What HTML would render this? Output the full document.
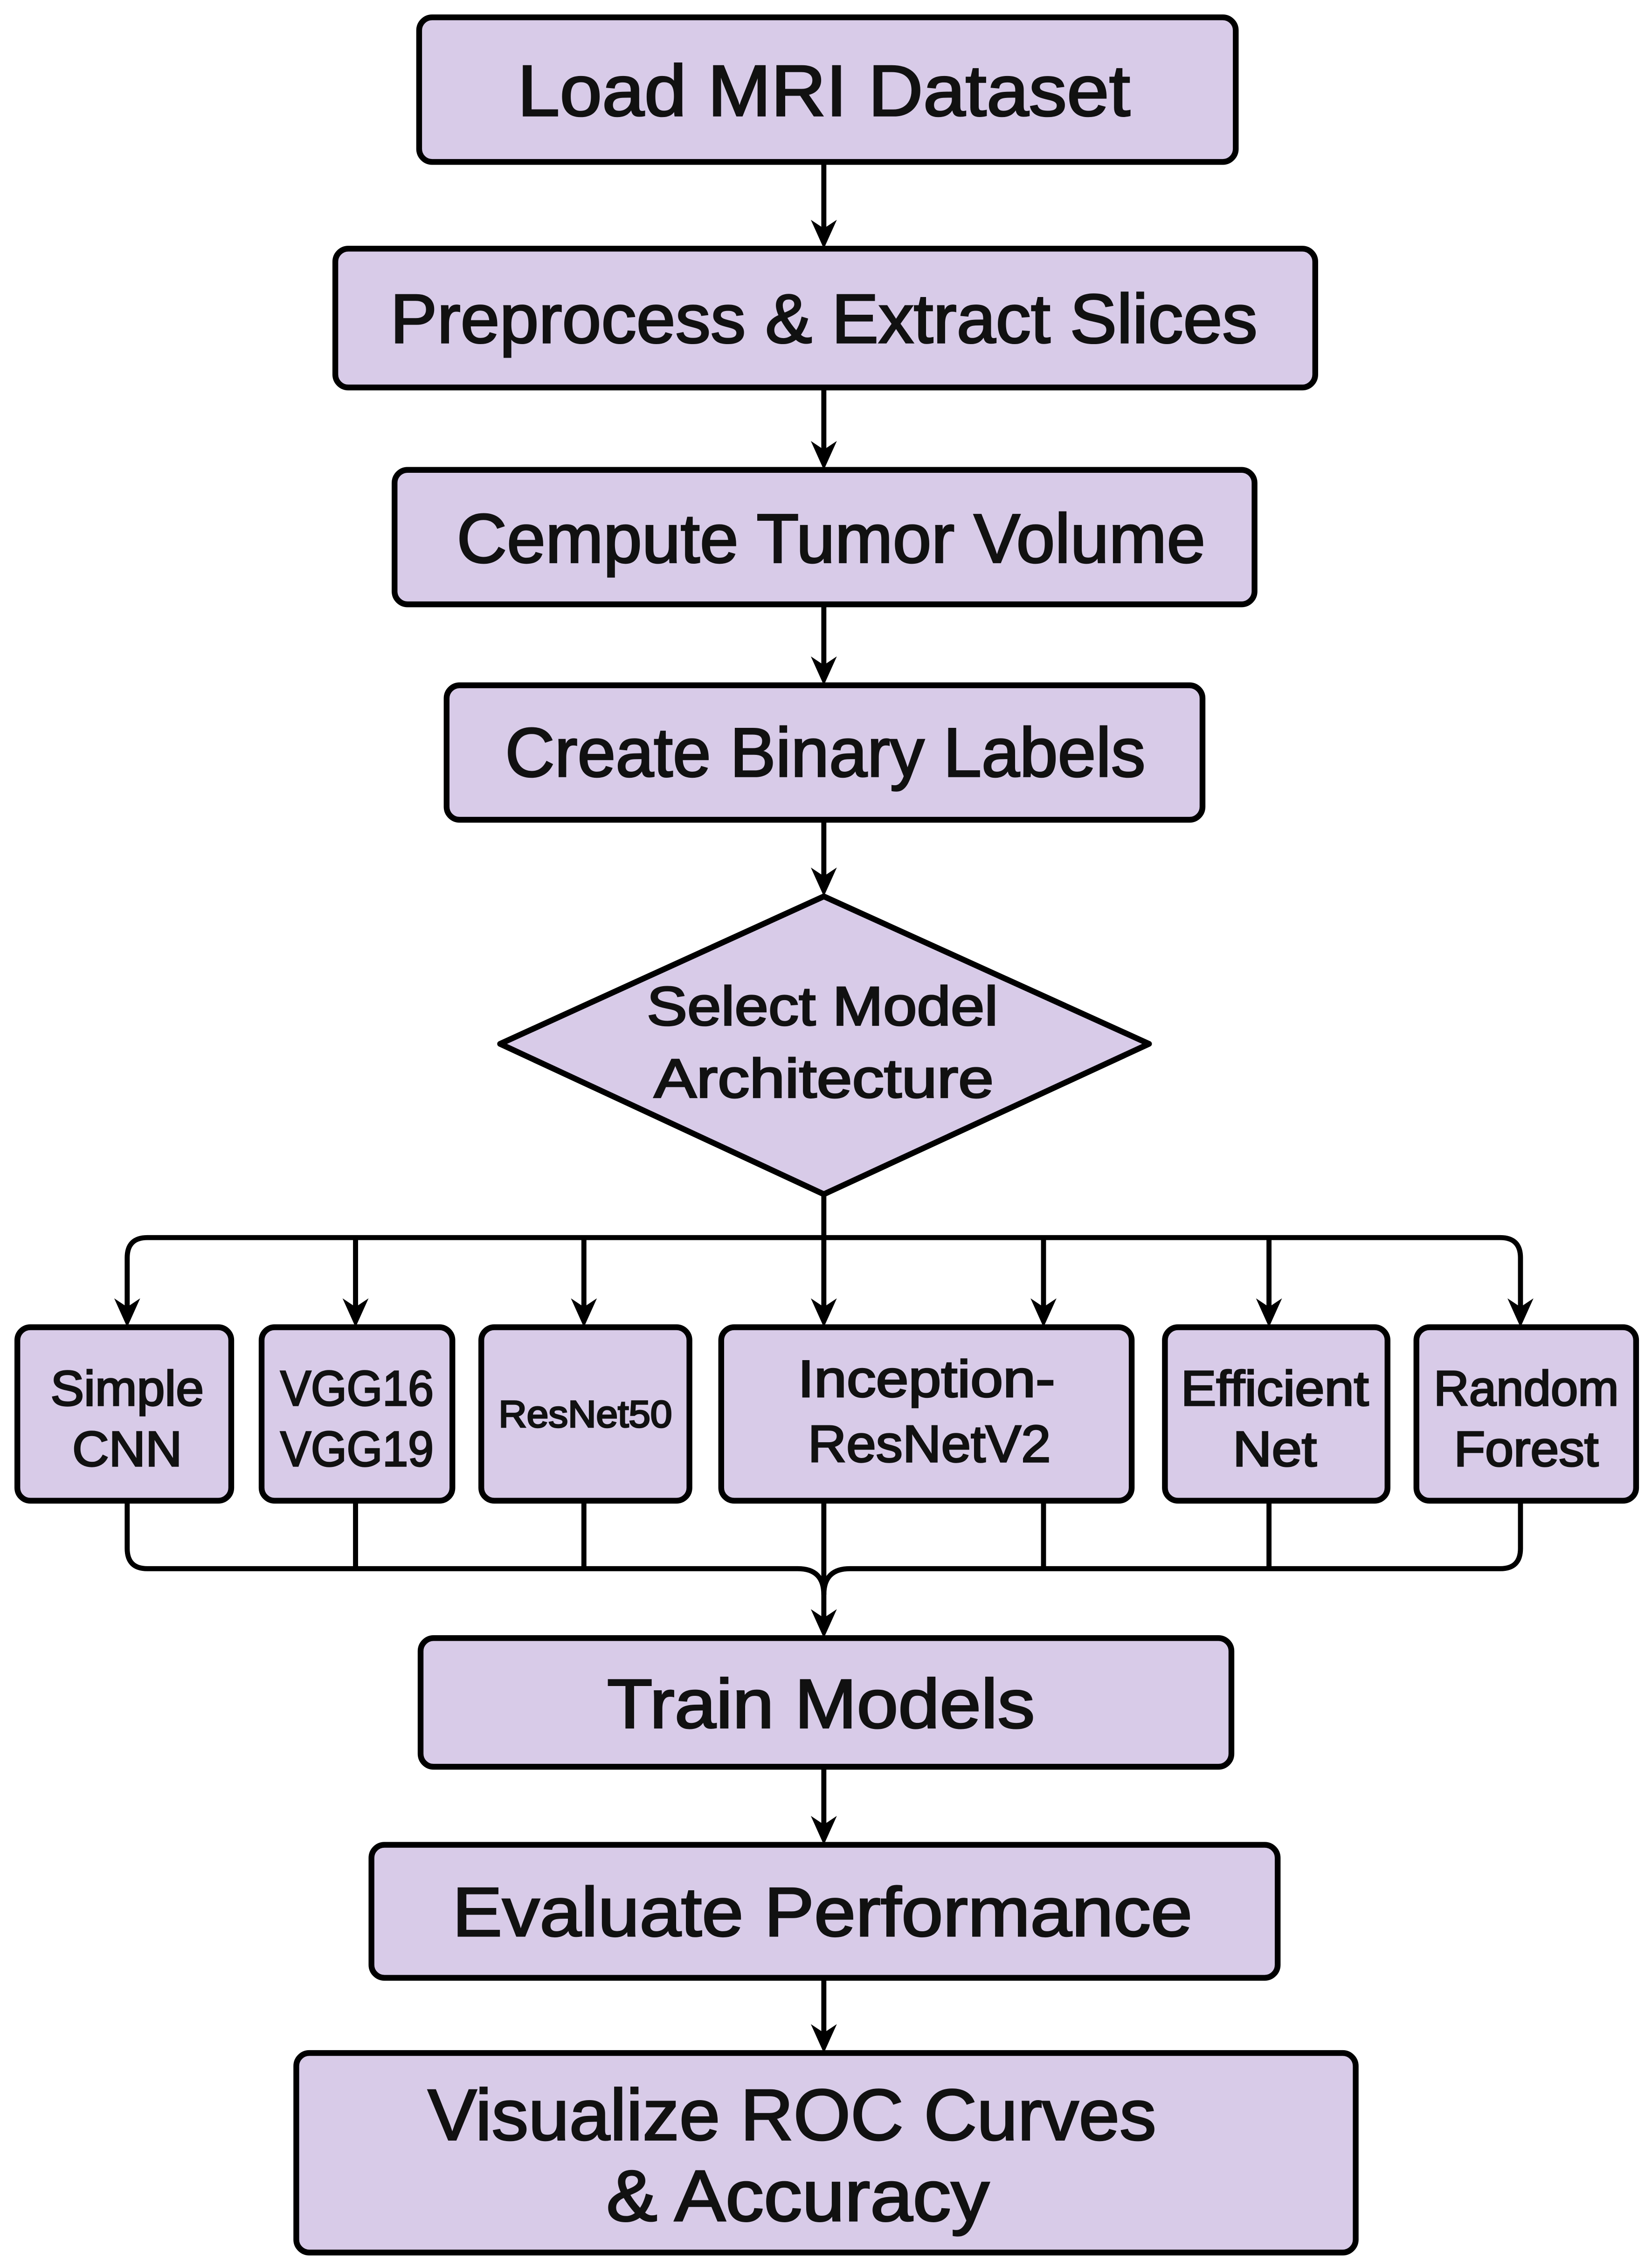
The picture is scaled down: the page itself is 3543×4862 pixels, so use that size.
<!DOCTYPE html>
<html><head><meta charset="utf-8"><style>
html,body{margin:0;padding:0;background:#fff;}
svg{display:block;}
text{font-family:"Liberation Sans",Arial,sans-serif;fill:#111;stroke:#111;stroke-width:1.1;text-anchor:middle;}
</style></head><body>
<svg width="3543" height="4862" viewBox="0 0 1143 1568" preserveAspectRatio="none" xmlns="http://www.w3.org/2000/svg">
<defs>
<path id="ah" d="M-9,-20 L0,0 L9,-20 L0,-14 Z" fill="#000"/>
</defs>
<g fill="#d8cbe8" stroke="#000" stroke-width="4">
<rect x="290" y="12" width="565" height="100" rx="9"/>
<rect x="232" y="172" width="678" height="96" rx="9"/>
<rect x="273" y="325" width="595" height="93" rx="9"/>
<rect x="309" y="474" width="523" height="93" rx="9"/>
<polygon points="570,620 795,722 570,826 346,722" stroke-linejoin="round"/>
<rect x="12" y="918" width="148" height="120" rx="9"/>
<rect x="181" y="918" width="132" height="120" rx="9"/>
<rect x="333" y="918" width="144" height="120" rx="9"/>
<rect x="499" y="918" width="284" height="120" rx="9"/>
<rect x="806" y="918" width="154" height="120" rx="9"/>
<rect x="980" y="918" width="152" height="120" rx="9"/>
<rect x="291" y="1133" width="561" height="89" rx="9"/>
<rect x="257" y="1276" width="627" height="92" rx="9"/>
<rect x="205" y="1420" width="733" height="138" rx="9"/>
</g>
<g fill="none" stroke="#000" stroke-width="3.5">
<line x1="570" y1="112" x2="570" y2="160"/>
<line x1="570" y1="268" x2="570" y2="313"/>
<line x1="570" y1="418" x2="570" y2="462"/>
<line x1="570" y1="567" x2="570" y2="608"/>
<line x1="570" y1="826" x2="570" y2="906"/>
<path d="M88,906 L88,870 Q88,856 102,856 L1038,856 Q1052,856 1052,870 L1052,906"/>
<line x1="246" y1="856" x2="246" y2="906"/>
<line x1="404" y1="856" x2="404" y2="906"/>
<line x1="722" y1="856" x2="722" y2="906"/>
<line x1="878" y1="856" x2="878" y2="906"/>
<path d="M88,1038 L88,1071 Q88,1085 102,1085 L552,1085 Q570,1085 570,1103"/>
<path d="M1052,1038 L1052,1071 Q1052,1085 1038,1085 L588,1085 Q570,1085 570,1103"/>
<line x1="246" y1="1038" x2="246" y2="1085"/>
<line x1="404" y1="1038" x2="404" y2="1085"/>
<line x1="722" y1="1038" x2="722" y2="1085"/>
<line x1="878" y1="1038" x2="878" y2="1085"/>
<line x1="570" y1="1038" x2="570" y2="1121"/>
<line x1="570" y1="1222" x2="570" y2="1264"/>
<line x1="570" y1="1368" x2="570" y2="1408"/>
</g>
<use href="#ah" x="570" y="172"/>
<use href="#ah" x="570" y="325"/>
<use href="#ah" x="570" y="474"/>
<use href="#ah" x="570" y="620"/>
<use href="#ah" x="88" y="918"/>
<use href="#ah" x="246" y="918"/>
<use href="#ah" x="404" y="918"/>
<use href="#ah" x="570" y="918"/>
<use href="#ah" x="722" y="918"/>
<use href="#ah" x="878" y="918"/>
<use href="#ah" x="1052" y="918"/>
<use href="#ah" x="570" y="1133"/>
<use href="#ah" x="570" y="1276"/>
<use href="#ah" x="570" y="1420"/>
<text x="570" y="80" font-size="50" textLength="424" lengthAdjust="spacingAndGlyphs">Load MRI Dataset</text>
<text x="570" y="237" font-size="48" textLength="600" lengthAdjust="spacingAndGlyphs">Preprocess &amp; Extract Slices</text>
<text x="575" y="389" font-size="48" textLength="518" lengthAdjust="spacingAndGlyphs">Cempute Tumor Volume</text>
<text x="571" y="537" font-size="48" textLength="443" lengthAdjust="spacingAndGlyphs">Create Binary Labels</text>
<text x="569" y="709" font-size="38" textLength="243" lengthAdjust="spacingAndGlyphs">Select Model</text>
<text x="570" y="759" font-size="38" textLength="235" lengthAdjust="spacingAndGlyphs">Architecture</text>
<text x="88" y="972" font-size="34" textLength="106" lengthAdjust="spacingAndGlyphs">Simple</text>
<text x="88" y="1014" font-size="34" textLength="76" lengthAdjust="spacingAndGlyphs">CNN</text>
<text x="247" y="972" font-size="34" textLength="106" lengthAdjust="spacingAndGlyphs">VGG16</text>
<text x="247" y="1014" font-size="34" textLength="106" lengthAdjust="spacingAndGlyphs">VGG19</text>
<text x="405" y="987" font-size="26" textLength="120" lengthAdjust="spacingAndGlyphs">ResNet50</text>
<text x="641" y="966" font-size="36" textLength="178" lengthAdjust="spacingAndGlyphs">Inception-</text>
<text x="643" y="1011" font-size="36" textLength="168" lengthAdjust="spacingAndGlyphs">ResNetV2</text>
<text x="882" y="972" font-size="34" textLength="130" lengthAdjust="spacingAndGlyphs">Efficient</text>
<text x="882" y="1014" font-size="34" textLength="58" lengthAdjust="spacingAndGlyphs">Net</text>
<text x="1056" y="972" font-size="34" textLength="128" lengthAdjust="spacingAndGlyphs">Random</text>
<text x="1056" y="1014" font-size="34" textLength="100" lengthAdjust="spacingAndGlyphs">Forest</text>
<text x="568" y="1195" font-size="48" textLength="296" lengthAdjust="spacingAndGlyphs">Train Models</text>
<text x="569" y="1339" font-size="48" textLength="512" lengthAdjust="spacingAndGlyphs">Evaluate Performance</text>
<text x="548" y="1480" font-size="50" textLength="504" lengthAdjust="spacingAndGlyphs">Visualize ROC Curves</text>
<text x="552" y="1536" font-size="50" textLength="265" lengthAdjust="spacingAndGlyphs">&amp; Accuracy</text>
</svg>
</body></html>
